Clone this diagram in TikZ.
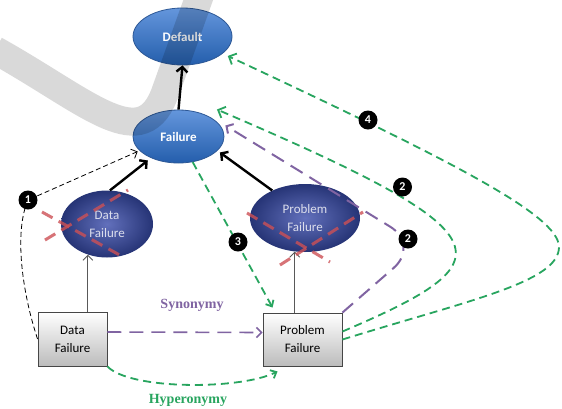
\documentclass[tikz,border=0pt]{standalone}
\usepackage{fontspec}
\setmainfont{Carlito}
\newfontfamily\labelserif{Liberation Serif}
\usetikzlibrary{arrows.meta,shapes.geometric,calc}
\definecolor{grn}{RGB}{40,165,95}
\definecolor{prp}{RGB}{128,100,162}
\definecolor{redx}{RGB}{205,80,85}
\definecolor{topin}{RGB}{100,150,220}
\definecolor{topout}{RGB}{36,94,172}
\definecolor{topline}{RGB}{45,88,150}
\definecolor{lowin}{RGB}{98,112,188}
\definecolor{lowout}{RGB}{38,52,118}
\definecolor{lowtext}{RGB}{220,222,236}
\definecolor{boxline}{RGB}{70,70,70}
\definecolor{boxbot}{RGB}{188,188,188}
\begin{document}
\begin{tikzpicture}[x=1pt,y=-1pt,
  topell/.style={ellipse, draw=topline, line width=0.8pt, top color=topin, bottom color=topout,
    text=white, font=\bfseries\fontsize{13}{16}\selectfont, inner sep=0pt},
  lowell/.style={ellipse, inner color=lowin, outer color=lowout, text=lowtext, align=center,
    font=\fontsize{13}{18}\selectfont, inner sep=0pt},
  termbox/.style={rectangle, draw=boxline, line width=0.9pt, top color=white, bottom color=boxbot,
    align=center, font=\fontsize{13}{18}\selectfont, inner sep=0pt},
  thinarr/.style={draw=black!65, line width=0.9pt, -{Straight Barb[length=5pt,width=10pt]}},
  boldarr/.style={draw=black, line width=2.4pt, -{Straight Barb[length=5pt,width=11pt]}},
  grndash/.style={draw=grn, line width=1.8pt, dash pattern=on 8pt off 5pt},
  grnhead/.style={-{Straight Barb[length=6pt,width=12pt]}},
  grnthin/.style={-{Straight Barb[length=5pt,width=9pt]}},
  prpdash/.style={draw=prp, line width=2pt, dash pattern=on 14pt off 8pt},
  blkdash/.style={draw=black, line width=0.8pt, dash pattern=on 5pt off 3pt,
    -{Straight Barb[length=5pt,width=10pt]}},
  redcross/.style={draw=redx, opacity=0.8, line width=3pt, dash pattern=on 12pt off 7pt},
  mk/.style={circle, fill=black, text=white, font=\bfseries\fontsize{12}{12}\selectfont,
    minimum size=19pt, inner sep=0pt},
  rel/.style={font=\labelserif\bfseries\fontsize{14}{16}\selectfont}
]
\clip (0,0) rectangle (562,408);
\fill[white] (0,0) rectangle (562,408);

% nodes
\node[topell, minimum width=99pt, minimum height=57pt] (Default) at (182.5,36.5) {Default};
\node[topell, minimum width=91pt, minimum height=53pt] (Failure) at (178.5,136.5) {Failure};
\node[lowell, minimum width=92pt, minimum height=67pt] (DE) at (107,224) {Data\\Failure};
\node[lowell, minimum width=110pt, minimum height=68pt] (PE) at (305,218) {Problem\\Failure};
\node[termbox, minimum width=69pt, minimum height=54pt] (DB) at (72.5,339) {Data\\Failure};
\node[termbox, minimum width=79pt, minimum height=53pt] (PB) at (302.5,339.5) {Problem\\Failure};

% gray band
\draw[line width=28pt, black, opacity=0.15] (-5,50) .. controls (90,103) and (143,158) .. (166,90) -- (200,-5);

% markers positions
\coordinate (m1p) at (28,200);
\coordinate (m2ap) at (402.5,187);
\coordinate (m2bp) at (408,239);
\coordinate (m3p) at (238,242);
\coordinate (m4p) at (368,120);
\coordinate (pc) at (420,245);
\coordinate (oc) at (559,247);

% black arrows
\draw[boldarr] (Failure.north) -- (Default.south);
\draw[boldarr, shorten >=4pt] (DE.85) -- (Failure.218);
\draw[boldarr, shorten >=3pt] (PE.140) -- (Failure.340);

% thin gray arrows
\draw[thinarr] (DB.north -| DE.238) -- (DE.238);
\draw[thinarr] (PB.north -| PE.253) -- (PE.253);

% black dashed (1)
\draw[blkdash, shorten >=2pt] (DB.west) .. controls (22,292) and (14,232) .. (m1p) -- (Failure.200);

% synonymy
\draw[prpdash, -{Straight Barb[length=5pt,width=10pt]}, line width=1.6pt] ([yshift=7pt]DB.east) -- ([yshift=7pt]PB.west);
% hyperonymy
\draw[grndash, grnthin] (DB.south east) .. controls (130,390) and (240,390) .. ([xshift=15pt,yshift=-5pt]PB.south west);

% green 3
\draw[grndash, grnthin] (Failure.299) -- ([xshift=10pt,yshift=5pt]PB.north west);

% purple 2
\draw[prpdash, rounded corners=35pt, -{Straight Barb[length=5pt,width=11pt]}] (PB.north east) -- (pc) -- ([xshift=1pt,yshift=11pt]Failure.east);

% green inner 2
\draw[grndash, grnhead] ([yshift=8pt]PB.east) .. controls (510,260) and (510,235) .. ([xshift=6pt,yshift=8pt]Failure.north east);

% green outer 4
\draw[grndash, grnhead] (PB.east) .. controls (470,300) and (559,282) .. (oc) .. controls (559,215) and (450,160) .. ([xshift=10pt,yshift=1pt]Default.south east);

% red crosses
\draw[redcross] (42,212) -- (125,258);
\draw[redcross] (45,240) -- (128,190);
\draw[redcross] (247,213) -- (330,262);
\draw[redcross] (280,265) -- (363,212);

% markers
\node[mk] (m1) at (m1p) {1};
\node[mk] (m2a) at (m2ap) {2};
\node[mk] (m2b) at (m2bp) {2};
\node[mk] (m3) at (m3p) {3};
\node[mk] (m4) at (m4p) {4};

% labels
\node[rel, text=prp] (syn) at (192,305) {Synonymy};
\node[rel, text=grn] (hyp) at (188,400) {Hyperonymy};
\end{tikzpicture}
\end{document}
